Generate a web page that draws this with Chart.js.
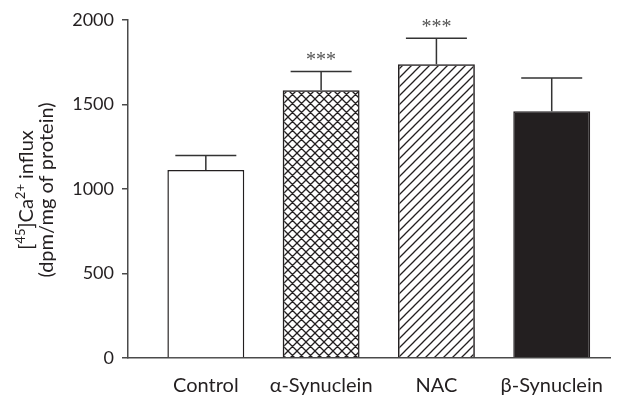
<!DOCTYPE html>
<html>
<head>
<meta charset="utf-8">
<script src="https://cdn.jsdelivr.net/npm/chart.js@4.4.1/dist/chart.umd.min.js"></script>
<style>
  html, body { margin: 0; padding: 0; background: #fff; }
  #wrap { width: 619px; height: 395px; position: relative; }
</style>
</head>
<body>
<div id="wrap"><canvas id="chart"></canvas></div>
<script>
// --- Data ------------------------------------------------------------------
var categories = ['Control', '\u03b1-Synuclein', 'NAC', '\u03b2-Synuclein'];
var influx     = [1112, 1584, 1738, 1460];
var errorTop   = [1198, 1696, 1892, 1657];
var stars      = ['', '***', '***', ''];
var yTicks     = [0, 500, 1000, 1500, 2000];

var INK = '#231f20';
var AXIS = '#4a4a4a';
var FONT = 'Lato, "Open Sans", sans-serif';

// --- Fill patterns ---------------------------------------------------------
function makePattern(kind){
  var s = 9;
  var c = document.createElement('canvas');
  c.width = s; c.height = s;
  var g = c.getContext('2d');
  g.strokeStyle = INK;
  g.lineWidth = 1.3;
  g.beginPath();
  // "/" diagonal
  g.moveTo(-1, s + 1); g.lineTo(s + 1, -1);
  g.moveTo(-1, 1); g.lineTo(1, -1);
  g.moveTo(s - 1, s + 1); g.lineTo(s + 1, s - 1);
  if(kind === 'cross'){
    // "\" diagonal
    g.moveTo(-1, -1); g.lineTo(s + 1, s + 1);
    g.moveTo(s - 1, -1); g.lineTo(s + 1, 1);
    g.moveTo(-1, s - 1); g.lineTo(1, s + 1);
  }
  g.stroke();
  return g.createPattern(c, 'repeat');
}

var fills = ['#ffffff', makePattern('cross'), makePattern('diag'), INK];

// --- Plugins ---------------------------------------------------------------
var errorBars = {
  id: 'errorBars',
  afterDatasetsDraw: function(chart){
    var ctx = chart.ctx;
    var xs = chart.scales.x, ys = chart.scales.y;
    ctx.save();
    ctx.strokeStyle = '#333';
    ctx.lineWidth = 1.5;
    errorTop.forEach(function(v, i){
      var cx = xs.getPixelForValue(i);
      var y0 = ys.getPixelForValue(influx[i]);
      var y1 = ys.getPixelForValue(v);
      ctx.beginPath();
      ctx.moveTo(cx, y0); ctx.lineTo(cx, y1);
      ctx.moveTo(cx - 30.5, y1); ctx.lineTo(cx + 30.5, y1);
      ctx.stroke();
      if(stars[i]){
        ctx.fillStyle = '#555';
        ctx.font = '20px "Liberation Serif", serif';
        ctx.textAlign = 'center';
        ctx.textBaseline = 'alphabetic';
        ctx.fillText(stars[i], cx, y1 - 5);
      }
    });
    ctx.restore();
  }
};

var yTitle = {
  id: 'yTitle',
  afterDraw: function(chart){
    var ctx = chart.ctx;
    var big = '20px ' + FONT, small = '13px ' + FONT;
    var cy = 190;
    ctx.save();
    ctx.fillStyle = INK;
    ctx.textBaseline = 'alphabetic';
    ctx.textAlign = 'left';
    ctx.rotate(-Math.PI / 2);
    // line 1 with superscripts: [45]Ca2+ influx
    var parts = [['[', big, 0], ['45', small, -8], [']Ca', big, 0], ['2+', small, -8], [' influx', big, 0]];
    var w = 0;
    parts.forEach(function(p){ ctx.font = p[1]; w += ctx.measureText(p[0]).width; });
    var x = -cy - w / 2;
    parts.forEach(function(p){
      ctx.font = p[1];
      ctx.fillText(p[0], x, 33 + p[2]);
      x += ctx.measureText(p[0]).width;
    });
    // line 2
    ctx.font = big;
    ctx.textAlign = 'center';
    ctx.fillText('(dpm/mg of protein)', -cy, 53);
    ctx.restore();
  }
};

// --- Chart -----------------------------------------------------------------
new Chart(document.getElementById('chart'), {
  type: 'bar',
  data: {
    datasets: [{
      data: influx.map(function(v, i){ return { x: i, y: v }; }),
      backgroundColor: fills,
      borderColor: INK,
      borderWidth: 1.5,
      borderSkipped: 'start',
      barPercentage: 0.667,
      categoryPercentage: 1
    }]
  },
  options: {
    responsive: true,
    maintainAspectRatio: false,
    animation: false,
    layout: { padding: { top: 20, right: 1, left: 0, bottom: 0 } },
    plugins: { legend: { display: false }, tooltip: { enabled: false } },
    scales: {
      x: {
        type: 'linear',
        offset: false,
        min: -0.675,
        max: 3.513,
        afterBuildTicks: function(s){ s.ticks = categories.map(function(c, i){ return { value: i }; }); },
        afterFit: function(s){ s.height = 37; },
        ticks: {
          autoSkip: false,
          maxRotation: 0,
          padding: 16,
          color: INK,
          font: { family: FONT, size: 20 },
          callback: function(v){ return categories[v]; }
        },
        grid: { display: true, drawOnChartArea: false, drawTicks: false },
        border: { display: true, color: AXIS, width: 1.5 }
      },
      y: {
        min: 0,
        max: 2000,
        afterBuildTicks: function(s){ s.ticks = yTicks.map(function(v){ return { value: v }; }); },
        afterFit: function(s){ s.width = 128; },
        ticks: {
          padding: 8,
          color: INK,
          font: { family: FONT, size: 18 },
          callback: function(v){ return String(v); }
        },
        grid: { display: true, drawOnChartArea: false, drawTicks: true, tickLength: 6, color: AXIS, lineWidth: 1.5 },
        border: { display: true, color: AXIS, width: 1.5 }
      }
    }
  },
  plugins: [errorBars, yTitle]
});
</script>
</body>
</html>
